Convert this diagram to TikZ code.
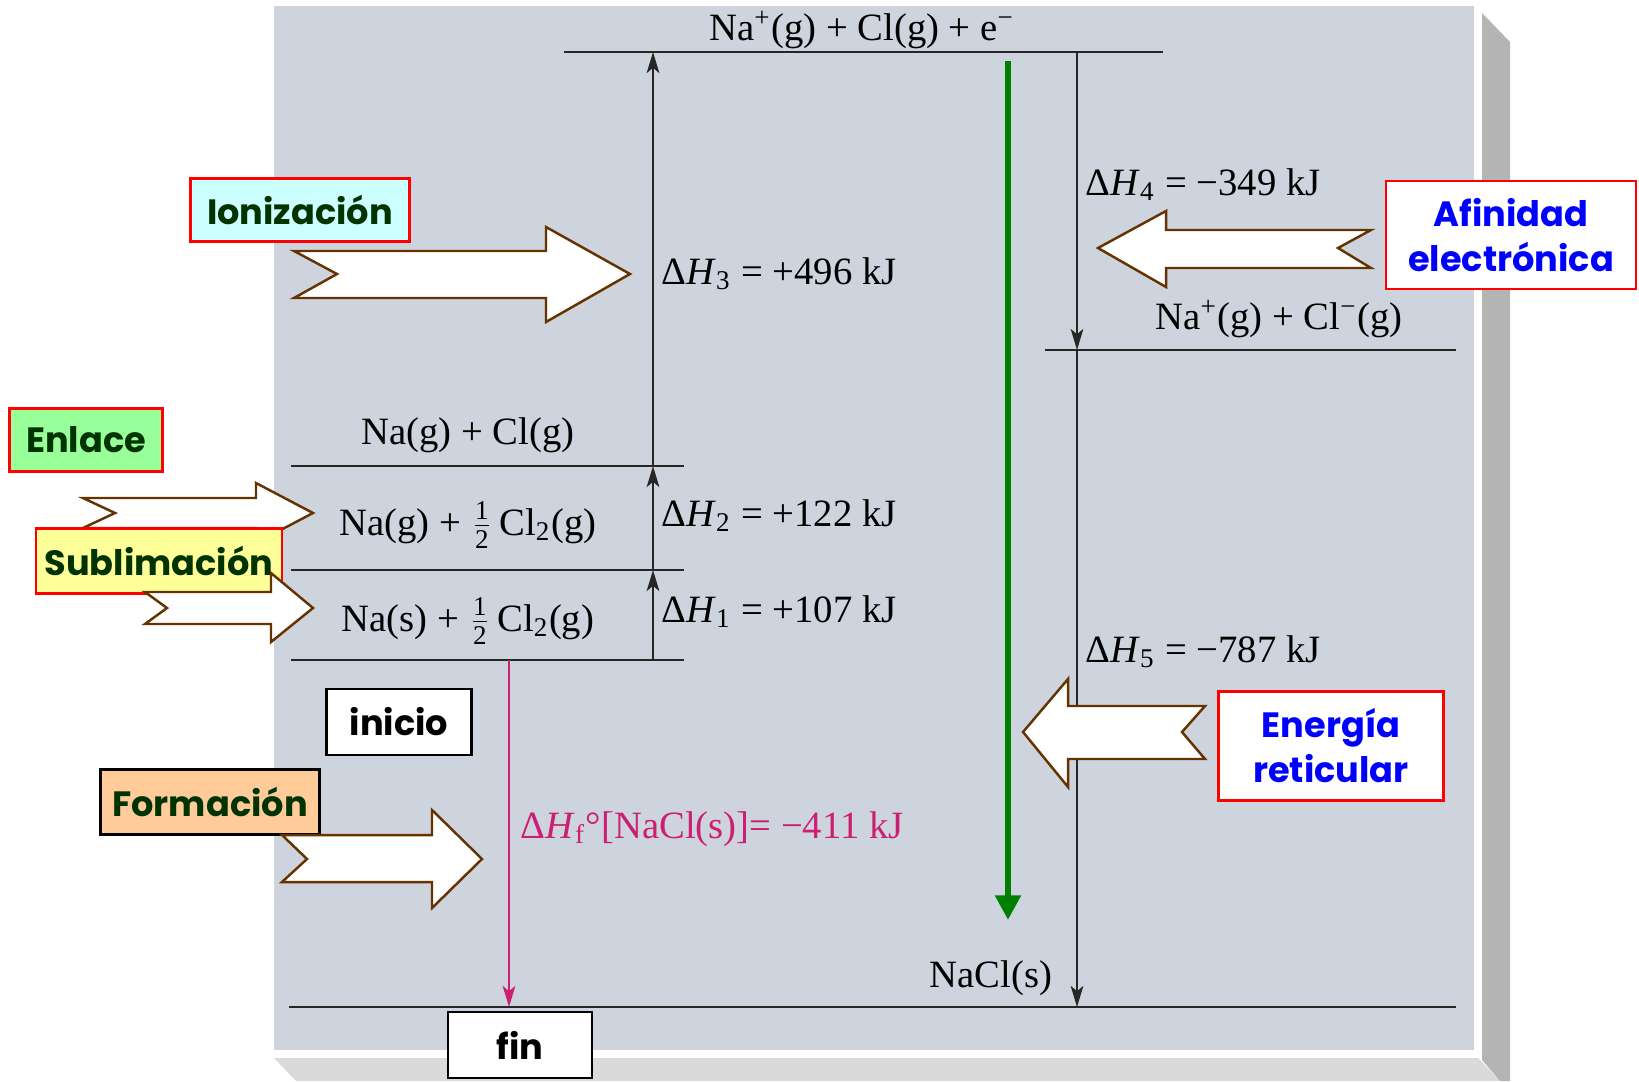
\documentclass[tikz,border=0pt]{standalone}
\usepackage{amsmath}
\usepackage{fontspec}
\setmainfont{Liberation Serif}
\newfontfamily\callfont{Poppins}
\usetikzlibrary{arrows.meta,positioning,calc}
\definecolor{PanelGray}{RGB}{205,212,221}
\definecolor{SideGray}{RGB}{180,180,180}
\definecolor{FootGray}{RGB}{218,218,218}
\definecolor{ArrowBrown}{HTML}{663300}
\definecolor{LabelGreen}{HTML}{003300}
\definecolor{FormPink}{HTML}{CC1F73}
\definecolor{PathGreen}{HTML}{008000}
\definecolor{IonCyan}{HTML}{CCFFFF}
\definecolor{BondGreen}{HTML}{99FF99}
\definecolor{SublYellow}{HTML}{FFFF99}
\definecolor{FormOrange}{HTML}{FFCC99}
\definecolor{NoteBlue}{HTML}{0000FF}

\begin{document}
\begin{tikzpicture}[x=0.1mm, y=-0.1mm,
    level/.style={line width=0.8pt, draw=black!85},
    arr/.style={
      -{Stealth[length=6pt,width=3.6pt,inset=1.5pt]},
      line width=0.55pt,
      draw=black!85
    },
    formarr/.style={
      -{Stealth[length=6pt,width=3.6pt,inset=1.5pt]},
      line width=0.6pt,
      draw=FormPink
    },
    chem/.style={font=\fontsize{11}{13}\selectfont, inner sep=0pt, anchor=base},
    dh/.style={chem, anchor=base west},
    callout/.style={
      draw=red,
      line width=0.7pt,
      fill=#1,
      text=LabelGreen,
      font=\callfont\bfseries\fontsize{10}{12.8}\selectfont,
      align=center,
      inner sep=0pt
    },
    tag/.style={callout=white, draw=black, text=black},
    note/.style={callout=white, text=NoteBlue},
    barrow/.style={draw=ArrowBrown, fill=white, line width=0.7pt, line join=miter}
  ]
  \useasboundingbox (0,0) rectangle (1639,1081);

  % panel with its 3D edge
  \fill[FootGray] (274,1058) -- (1478,1058) -- (1500,1081) -- (296,1081) -- cycle;
  \fill[SideGray] (1482,13) -- (1510,42) -- (1510,1081) -- (1500,1081) -- (1482,1060) -- cycle;
  \fill[PanelGray] (274,6) rectangle (1474,1050);

  % energy levels
  \coordinate (topL) at (564,52);   \coordinate (topR) at (1163,52);
  \coordinate (gasL) at (291,466);  \coordinate (gasR) at (684,466);
  \coordinate (midL) at (291,570);  \coordinate (midR) at (684,570);
  \coordinate (lowL) at (291,660);  \coordinate (lowR) at (684,660);
  \coordinate (ionL) at (1045,350); \coordinate (ionR) at (1456,350);
  \coordinate (botL) at (289,1007); \coordinate (botR) at (1456,1007);
  \foreach \a/\b in {topL/topR, gasL/gasR, midL/midR, lowL/lowR, ionL/ionR, botL/botR}
    \draw[level] (\a) -- (\b);

  % steps of the cycle
  \coordinate (h1a) at (653,660);  \coordinate (h1b) at (653,570);
  \coordinate (h2b) at (653,466);  \coordinate (h3b) at (653,52);
  \coordinate (h4a) at (1077,52);  \coordinate (h4b) at (1077,350);
  \coordinate (h5b) at (1077,1007);
  \coordinate (hfa) at (509,660);  \coordinate (hfb) at (509,1007);
  \coordinate (gra) at (1008,61);  \coordinate (grb) at (1008,920);
  \foreach \a/\b in {h1a/h1b, h1b/h2b, h2b/h3b, h4a/h4b, h4b/h5b}
    \draw[arr] (\a) -- (\b);
  \draw[formarr] (hfa) -- (hfb);
  \draw[-{Triangle[length=7pt,width=7pt]}, line width=1.8pt, PathGreen] (gra) -- (grb);

  % species
  \node[chem] (sTop) at (862,40) {Na\textsuperscript{+}(g) + Cl(g) + e\textsuperscript{−}};
  \node[chem] (sGas) at (468,444) {Na(g) + Cl(g)};
  \node[chem] (sMid) at (468,535) {Na(g) + $\frac{\text{1}}{\text{2}}$\,Cl\textsubscript{2}(g)};
  \node[chem] (sLow) at (468,631) {Na(s) + $\frac{\text{1}}{\text{2}}$\,Cl\textsubscript{2}(g)};
  \node[chem] (sIon) at (1279,329) {Na\textsuperscript{+}(g) + Cl\textsuperscript{−}(g)};
  \node[chem] (sSol) at (991,987) {NaCl(s)};

  % enthalpies
  \node[dh] (dH3) at (661,284) {Δ\textit{H}\textsubscript{3} = +496 kJ};
  \node[dh] (dH2) at (661,526) {Δ\textit{H}\textsubscript{2} = +122 kJ};
  \node[dh] (dH1) at (661,622) {Δ\textit{H}\textsubscript{1} = +107 kJ};
  \node[dh] (dH4) at (1085,195) {Δ\textit{H}\textsubscript{4} = −349 kJ};
  \node[dh] (dH5) at (1085,662) {Δ\textit{H}\textsubscript{5} = −787 kJ};
  \node[dh, text=FormPink] (dHf) at (520,838) {Δ\textit{H}\textsubscript{f}°[NaCl(s)]= −411 kJ};

  % callouts
  \node[callout=IonCyan, minimum width=21.9mm, minimum height=6.3mm] (ion) at (300,210) {Ionización};
  \draw[barrow] (294,251) -- (546,251) -- (546,227) -- (630,274) -- (546,322)
    -- (546,298) -- (294,298) -- (337,274) -- cycle;

  \node[callout=BondGreen, minimum width=15.3mm, minimum height=6.3mm] (enl) at (86,440) {Enlace};
  \draw[barrow] (83,498) -- (256,498) -- (256,483) -- (313,513) -- (256,543)
    -- (256,528) -- (83,528) -- (115,513) -- cycle;

  \node[callout=SublYellow, minimum width=24.6mm, minimum height=6.5mm] (subl) at (159,561) {Sublimación};
  \draw[barrow] (145,592) -- (271,592) -- (271,573) -- (313,608) -- (271,642)
    -- (271,624) -- (145,624) -- (167,608) -- cycle;

  \node[callout=FormOrange, draw=black, minimum width=21.9mm, minimum height=6.5mm] (form) at (210,802) {Formación};
  \draw[barrow] (282,835) -- (432,835) -- (432,810) -- (482,859) -- (432,908)
    -- (432,882) -- (282,882) -- (307,859) -- cycle;

  \node[tag, minimum width=14.5mm, minimum height=6.6mm] (ini) at (399,722) {inicio};
  \node[tag, minimum width=14.4mm, minimum height=6.6mm] (fin) at (520,1045) {fin};

  \draw[barrow] (1371,230) -- (1166,230) -- (1166,211) -- (1098,248) -- (1166,287)
    -- (1166,268) -- (1371,268) -- (1338,248) -- cycle;
  \node[note, minimum width=25.0mm, minimum height=10.8mm] (afin) at (1511,235) {Afinidad\\electrónica};

  \draw[barrow] (1205,706) -- (1068,706) -- (1068,679) -- (1023,732) -- (1068,787)
    -- (1068,759) -- (1205,759) -- (1182,732) -- cycle;
  \node[note, minimum width=22.5mm, minimum height=10.9mm] (ener) at (1331,746) {Energía\\reticular};

\end{tikzpicture}
\end{document}
